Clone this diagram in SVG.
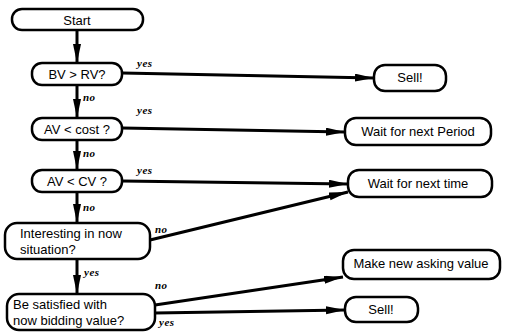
<svg xmlns="http://www.w3.org/2000/svg" width="505" height="332" viewBox="0 0 505 332">
<defs>
<marker id="ah" markerUnits="userSpaceOnUse" markerWidth="22" markerHeight="10" refX="19" refY="4" orient="auto">
<path d="M0,0 L19,4 L0,8 z" fill="#000"/>
</marker>
<style>
.box{fill:#fff;stroke:#000;stroke-width:2.5}
.t{font-family:"Liberation Sans",Arial,sans-serif;font-size:13px;fill:#000}
.c{text-anchor:middle}
.lb{font-family:"Liberation Serif","Times New Roman",serif;font-style:italic;font-weight:bold;font-size:11px;letter-spacing:0.5px;fill:#000}
.ln{fill:none;stroke:#000;stroke-width:3;marker-end:url(#ah)}
</style>
</defs>
<rect width="505" height="332" fill="#fff"/>
<g id="connectors">
<line class="ln" x1="77" y1="30" x2="77" y2="63"/>
<line class="ln" x1="122" y1="73" x2="374" y2="78"/>
<line class="ln" x1="77" y1="85" x2="77" y2="118"/>
<line class="ln" x1="122" y1="128" x2="345" y2="132"/>
<line class="ln" x1="77" y1="140" x2="77" y2="170"/>
<line class="ln" x1="122" y1="181" x2="348" y2="184"/>
<line class="ln" x1="77" y1="192" x2="77" y2="223"/>
<line class="ln" x1="150" y1="240" x2="348" y2="192"/>
<line class="ln" x1="77" y1="259" x2="77" y2="294"/>
<line class="ln" x1="155" y1="305" x2="343" y2="277"/>
<line class="ln" x1="155" y1="313" x2="345" y2="310"/>
<text class="lb" x="137" y="67">yes</text>
<text class="lb" x="83" y="101">no</text>
<text class="lb" x="137" y="114">yes</text>
<text class="lb" x="83" y="157">no</text>
<text class="lb" x="137" y="174">yes</text>
<text class="lb" x="83" y="211">no</text>
<text class="lb" x="155" y="233">no</text>
<text class="lb" x="84" y="276">yes</text>
<text class="lb" x="155" y="289">no</text>
<text class="lb" x="159" y="326">yes</text>
</g>
<g id="start"><rect class="box" x="12" y="9" width="131" height="21" rx="10"/><text class="t c" x="77" y="25">Start</text></g>
<g id="bv_rv"><rect class="box" x="32" y="63" width="90" height="22" rx="10"/><text class="t c" x="77" y="79">BV &gt; RV?</text></g>
<g id="av_cost"><rect class="box" x="32" y="118" width="90" height="22" rx="10"/><text class="t c" x="77" y="134">AV &lt;  cost ?</text></g>
<g id="av_cv"><rect class="box" x="32" y="170" width="90" height="22" rx="10"/><text class="t c" x="77" y="186">AV &lt;  CV ?</text></g>
<g id="interesting"><rect class="box" x="5" y="223" width="145" height="36" rx="12"/><text class="t" x="20" y="238">Interesting in now</text><text class="t" x="20" y="254">situation?</text></g>
<g id="satisfied"><rect class="box" x="7" y="294" width="148" height="36" rx="12"/><text class="t" x="13" y="309">Be satisfied with</text><text class="t" x="13" y="325">now bidding value?</text></g>
<g id="sell1"><rect class="box" x="374" y="65" width="72" height="26" rx="11"/><text class="t c" x="410" y="82">Sell!</text></g>
<g id="wait_period"><rect class="box" x="345" y="118" width="146" height="27" rx="11"/><text class="t c" x="418" y="136">Wait for next Period</text></g>
<g id="wait_time"><rect class="box" x="348" y="170" width="144" height="27" rx="11"/><text class="t c" x="418" y="188">Wait for next time</text></g>
<g id="make_new"><rect class="box" x="343" y="250" width="157" height="29" rx="11"/><text class="t c" x="421" y="268">Make new asking value</text></g>
<g id="sell2"><rect class="box" x="345" y="297" width="73" height="25" rx="11"/><text class="t c" x="381" y="314">Sell!</text></g>
</svg>
